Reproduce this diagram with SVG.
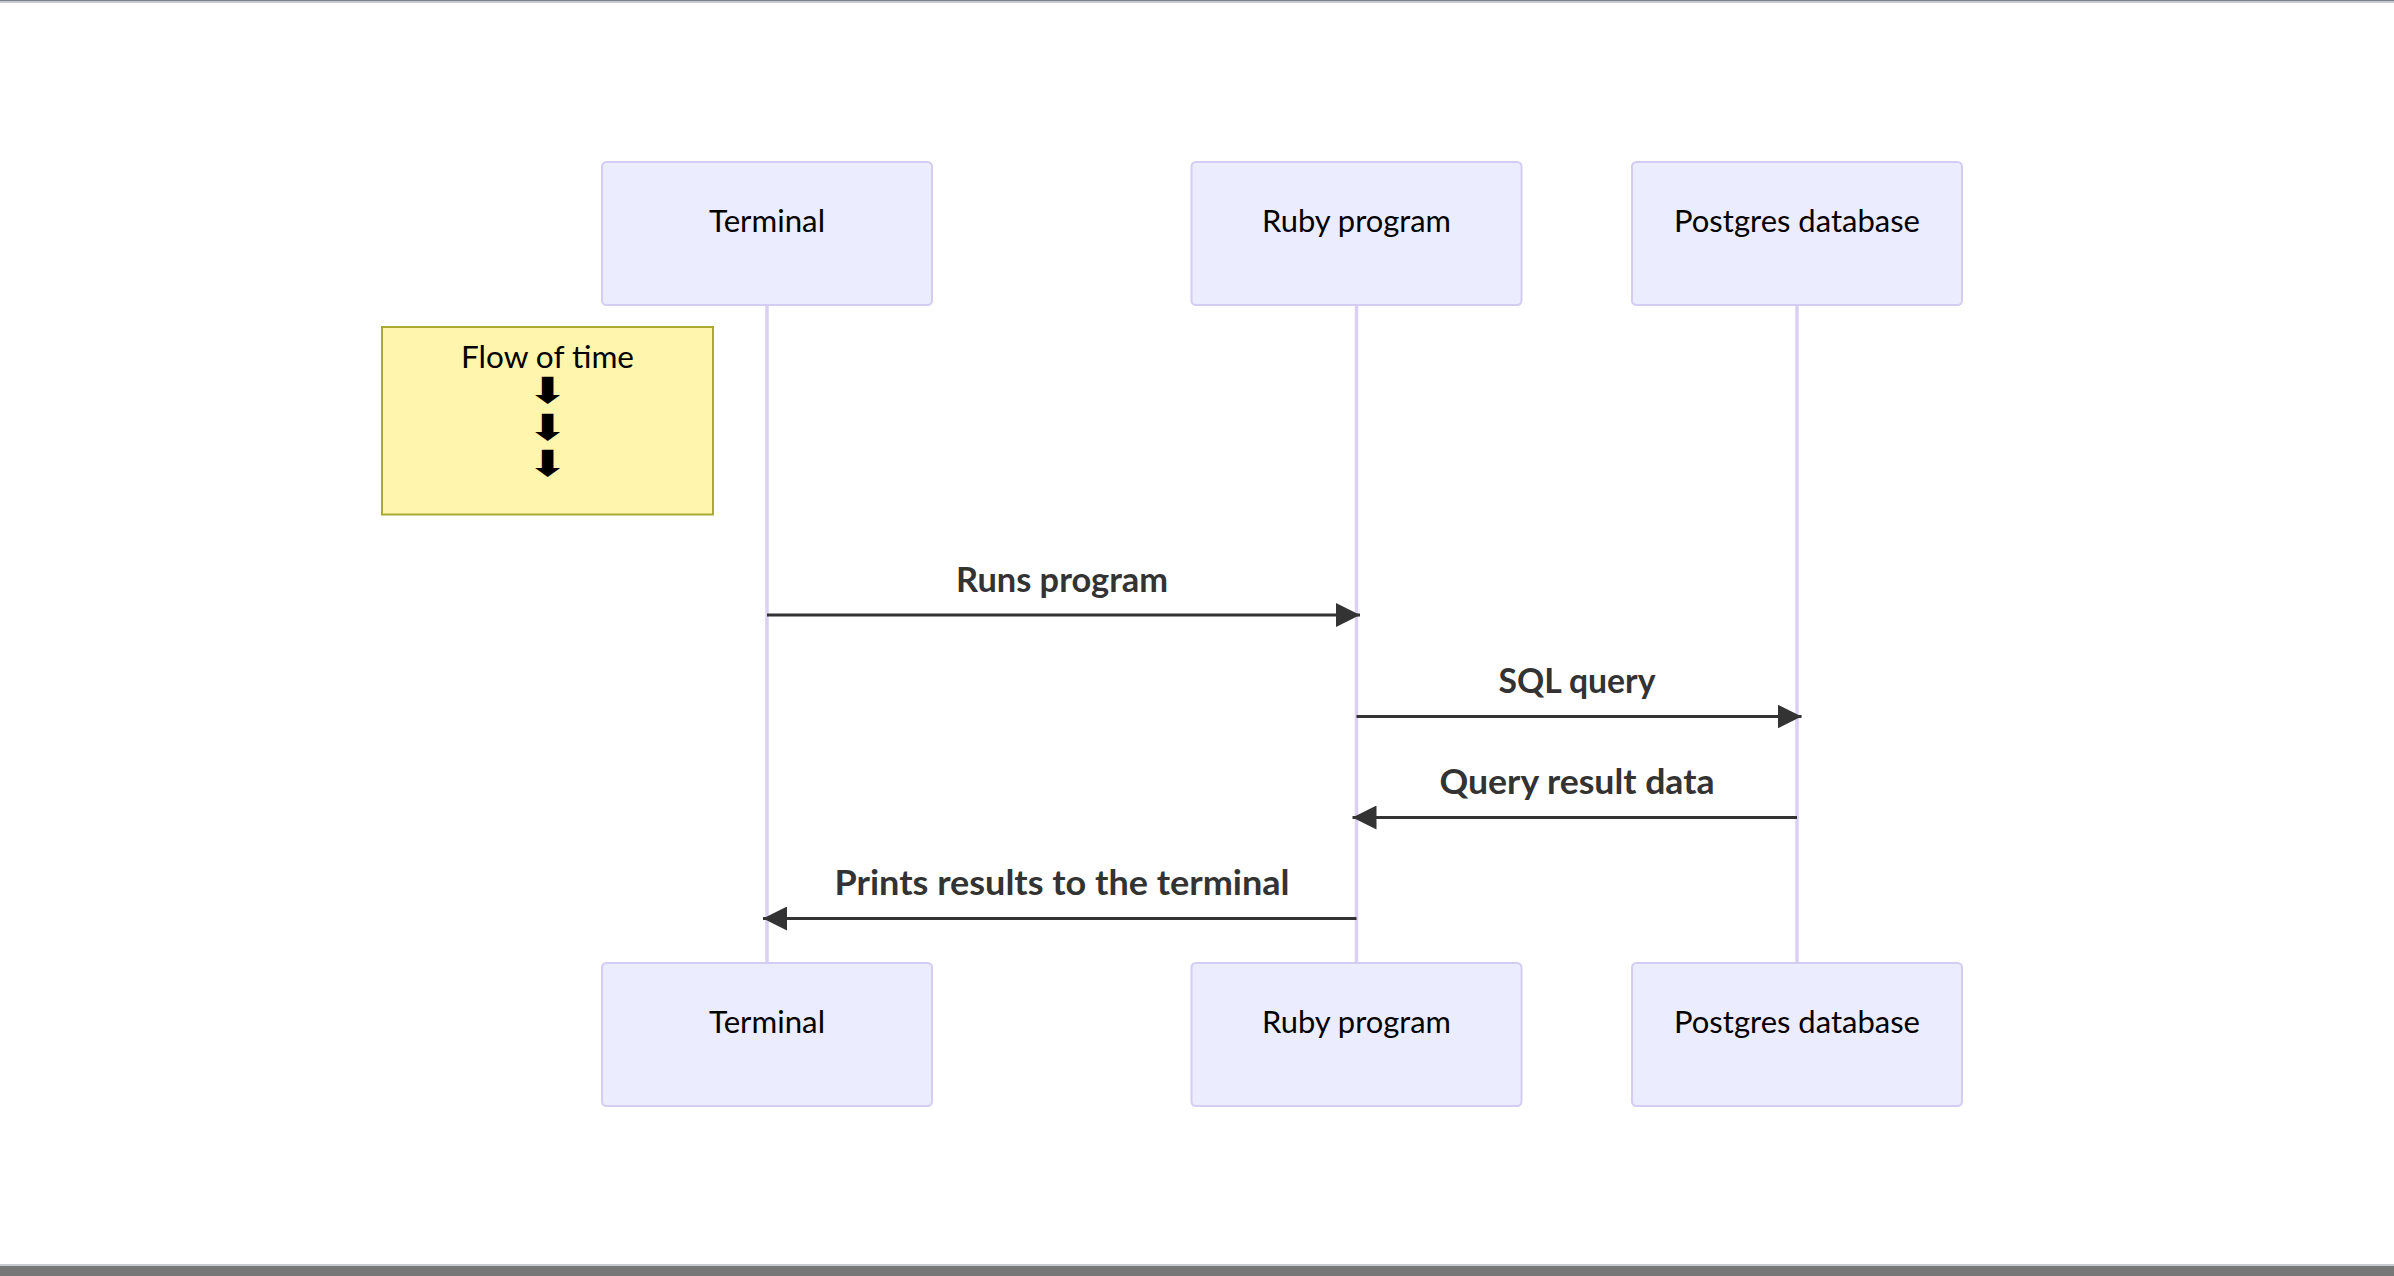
<svg xmlns="http://www.w3.org/2000/svg" width="2394" height="1276" viewBox="0 0 2394 1276">
<defs>
<style>
.actor rect{fill:#ECECFF;stroke:#D4CCF2;stroke-width:2}
.actor text{font-family:Lato,"Noto Sans",sans-serif;font-size:30px;fill:#000;text-anchor:middle}
.life{stroke:#D9D0F4;stroke-width:3.5}
.msg{stroke:#333;stroke-width:3;fill:none}
.mtext{font-family:Lato,"Noto Sans",sans-serif;font-size:34.5px;font-weight:bold;fill:#333;text-anchor:middle}
.note rect{fill:#FFF5AD;stroke:#AAAA33;stroke-width:2}
.note text{font-family:Lato,"Noto Sans",sans-serif;font-size:31px;fill:#000;text-anchor:middle}
.note .arr{font-family:"DejaVu Sans",sans-serif;font-size:36px}
</style>
<marker id="ah" markerUnits="userSpaceOnUse" markerWidth="24" markerHeight="24" refX="24" refY="12" orient="auto">
<path d="M0,0 L24,12 L0,24 z" fill="#333"/>
</marker>
</defs>
<rect x="0" y="0" width="2394" height="1276" fill="#fff"/>
<rect x="0" y="0" width="2394" height="1" fill="#7d838a"/>
<rect x="0" y="1" width="2394" height="2" fill="#c5c8cc"/>
<rect x="0" y="1264" width="2394" height="2" fill="#c9ccd0"/>
<rect x="0" y="1266" width="2394" height="10" fill="#777"/>

<g id="lifelines">
<line class="life" x1="767" y1="305" x2="767" y2="963"/>
<line class="life" x1="1356.5" y1="305" x2="1356.5" y2="963"/>
<line class="life" x1="1797" y1="305" x2="1797" y2="963"/>
</g>

<g id="terminal-top" class="actor"><rect x="602" y="162" width="330" height="143" rx="4.5"/><text x="767" y="232" textLength="116" lengthAdjust="spacingAndGlyphs">Terminal</text></g>
<g id="ruby-top" class="actor"><rect x="1191.5" y="162" width="330" height="143" rx="4.5"/><text x="1356.5" y="232" textLength="189" lengthAdjust="spacingAndGlyphs">Ruby program</text></g>
<g id="postgres-top" class="actor"><rect x="1632" y="162" width="330" height="143" rx="4.5"/><text x="1797" y="232" textLength="246" lengthAdjust="spacingAndGlyphs">Postgres database</text></g>

<g id="terminal-bottom" class="actor"><rect x="602" y="963" width="330" height="143" rx="4.5"/><text x="767" y="1033" textLength="116" lengthAdjust="spacingAndGlyphs">Terminal</text></g>
<g id="ruby-bottom" class="actor"><rect x="1191.5" y="963" width="330" height="143" rx="4.5"/><text x="1356.5" y="1033" textLength="189" lengthAdjust="spacingAndGlyphs">Ruby program</text></g>
<g id="postgres-bottom" class="actor"><rect x="1632" y="963" width="330" height="143" rx="4.5"/><text x="1797" y="1033" textLength="246" lengthAdjust="spacingAndGlyphs">Postgres database</text></g>

<g id="note" class="note">
<rect x="382" y="327" width="331" height="187.5"/>
<text x="547.5" y="368" textLength="173" lengthAdjust="spacingAndGlyphs">Flow of time</text>
<text class="arr" transform="translate(547.5,0) scale(1.4,1)"><tspan x="0" y="403.3">⬇</tspan><tspan x="0" y="440">⬇</tspan><tspan x="0" y="476.4">⬇</tspan></text>
</g>

<g id="connectors">
<line class="msg" x1="767" y1="615" x2="1360" y2="615" marker-end="url(#ah)"/>
<text class="mtext" x="1062" y="592" textLength="212" lengthAdjust="spacingAndGlyphs">Runs program</text>
<line class="msg" x1="1356.5" y1="716.5" x2="1801.5" y2="716.5" marker-end="url(#ah)"/>
<text class="mtext" x="1577" y="693" textLength="157" lengthAdjust="spacingAndGlyphs">SQL query</text>
<line class="msg" x1="1797" y1="817.5" x2="1352.5" y2="817.5" marker-end="url(#ah)"/>
<text class="mtext" x="1577" y="794" textLength="275" lengthAdjust="spacingAndGlyphs">Query result data</text>
<line class="msg" x1="1356.5" y1="918.5" x2="763" y2="918.5" marker-end="url(#ah)"/>
<text class="mtext" x="1062" y="895" textLength="455" lengthAdjust="spacingAndGlyphs">Prints results to the terminal</text>
</g>
</svg>
